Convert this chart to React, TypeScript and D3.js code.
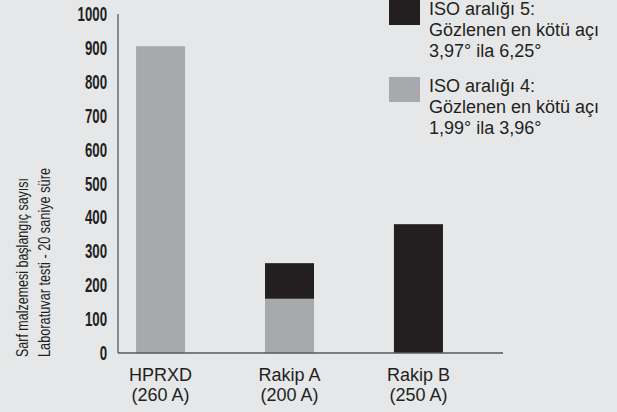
import React, { useEffect } from 'react';
import * as d3 from 'd3';

const categories = ['HPRXD', 'Rakip A', 'Rakip B'];
const subLabels = ['(260 A)', '(200 A)', '(250 A)'];
const iso4Values = [905, 160, 0];
const iso5Values = [0, 105, 380];
const yTicks = [0, 100, 200, 300, 400, 500, 600, 700, 800, 900, 1000];
const yTitle = ['Sarf malzemesi başlangıç sayısı', 'Laboratuvar testi - 20 saniye süre'];
const yTitleLengths = [179, 189];
const legendItems = [
  { lines: ['ISO aralığı 5:', 'Gözlenen en kötü açı', '3,97° ila 6,25°'], color: '#231f20' },
  { lines: ['ISO aralığı 4:', 'Gözlenen en kötü açı', '1,99° ila 3,96°'], color: '#a7a9ac' },
];

const W = 617;
const H = 412;
const BG = '#e6e7e8';
const DARK = '#231f20';
const GRAY = '#a7a9ac';
const sans = '"Liberation Sans", Arial, Helvetica, sans-serif';

const App: React.FC = () => {
  useEffect(() => {
    document.body.style.margin = '0';
    document.body.style.background = BG;
  }, []);

  const axisX = 118;
  const x = d3.scaleBand<string>()
    .domain(categories)
    .range([axisX, 461])
    .paddingInner(0.62)
    .paddingOuter(0.14);

  const y = d3.scaleLinear().domain([0, 1000]).range([353, 14]);

  const stacks = categories.map((c, i) => ({
    cat: c,
    iso4: iso4Values[i],
    iso5: iso5Values[i],
  }));

  return (
    <svg width={W} height={H} style={{ display: 'block', background: BG }}>
      <rect width={W} height={H} fill={BG} />

      {/* y title, condensed */}
      {yTitle.map((t, i) => (
        <text
          key={t}
          transform={`translate(${28 + i * 22},357) rotate(-90)`}
          fontFamily={sans}
          fontSize={17}
          fill={DARK}
          textAnchor="start"
          textLength={yTitleLengths[i]}
          lengthAdjust="spacingAndGlyphs"
        >
          {t}
        </text>
      ))}

      {/* y tick labels, condensed */}
      {yTicks.map(t => (
        <text
          key={t}
          x={0}
          y={0}
          dy="0.36em"
          textAnchor="end"
          fontFamily={sans}
          fontWeight="bold"
          fontSize={19.5}
          fill={DARK}
          transform={`translate(107,${y(t)}) scale(0.68,1)`}
        >
          {t}
        </text>
      ))}

      {/* bars */}
      {stacks.map(s => (
        <g key={s.cat}>
          {s.iso4 > 0 && (
            <rect
              x={x(s.cat)}
              y={y(s.iso4)}
              width={x.bandwidth()}
              height={y(0) - y(s.iso4)}
              fill={GRAY}
            />
          )}
          {s.iso5 > 0 && (
            <rect
              x={x(s.cat)}
              y={y(s.iso4 + s.iso5)}
              width={x.bandwidth()}
              height={y(s.iso4) - y(s.iso4 + s.iso5)}
              fill={DARK}
            />
          )}
        </g>
      ))}

      {/* axes */}
      <line x1={axisX} x2={axisX} y1={14} y2={y(0)} stroke="#58595b" strokeWidth={1.3} />
      <line x1={axisX} x2={503} y1={y(0)} y2={y(0)} stroke="#58595b" strokeWidth={1.3} />

      {/* x labels */}
      {categories.map((c, i) => (
        <text
          key={c}
          textAnchor="middle"
          fontFamily={sans}
          fontSize={18}
          fill={DARK}
        >
          <tspan x={(x(c) ?? 0) + x.bandwidth() / 2} y={381}>{c}</tspan>
          <tspan x={(x(c) ?? 0) + x.bandwidth() / 2} y={401}>{subLabels[i]}</tspan>
        </text>
      ))}

      {/* legend */}
      {legendItems.map((item, i) => (
        <g key={i} transform={`translate(389,${i * 77})`}>
          <rect x={0} y={0} width={31} height={25} fill={item.color} />
          <text fontFamily={sans} fontSize={18} fill={DARK}>
            {item.lines.map((l, j) => (
              <tspan key={j} x={40} y={14.5 + j * 21.3}>{l}</tspan>
            ))}
          </text>
        </g>
      ))}
    </svg>
  );
};

export default App;
